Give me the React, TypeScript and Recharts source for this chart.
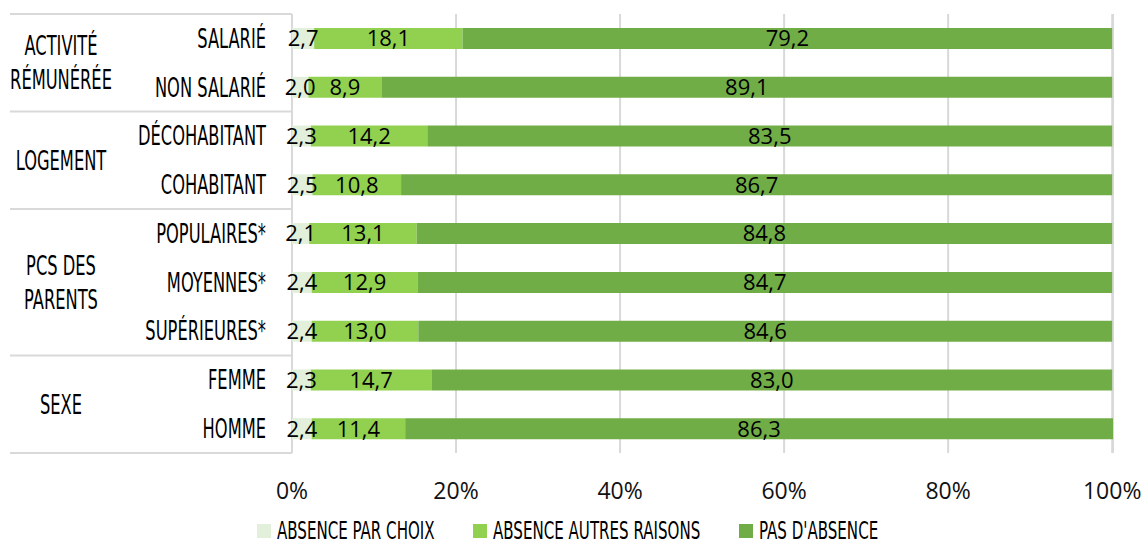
import React from "react";
import { BarChart, Bar, XAxis, YAxis, CartesianGrid, LabelList, Legend } from "recharts";

const categories = ["SALARIÉ", "NON SALARIÉ", "DÉCOHABITANT", "COHABITANT", "POPULAIRES*", "MOYENNES*", "SUPÉRIEURES*", "FEMME", "HOMME"];
const absenceParChoix = [2.7, 2.0, 2.3, 2.5, 2.1, 2.4, 2.4, 2.3, 2.4];
const absenceAutresRaisons = [18.1, 8.9, 14.2, 10.8, 13.1, 12.9, 13.0, 14.7, 11.4];
const pasDAbsence = [79.2, 89.1, 83.5, 86.7, 84.8, 84.7, 84.6, 83.0, 86.3];
const xTicks = [0, 20, 40, 60, 80, 100];
const groups = [
  { label: ["ACTIVITÉ", "RÉMUNÉRÉE"], start: 0, end: 1 },
  { label: ["LOGEMENT"], start: 2, end: 3 },
  { label: ["PCS DES", "PARENTS"], start: 4, end: 6 },
  { label: ["SEXE"], start: 7, end: 8 },
];
const seriesNames = ["ABSENCE PAR CHOIX", "ABSENCE AUTRES RAISONS", "PAS D'ABSENCE"];
const colors = ["#E2EFDA", "#92D050", "#70AD47"];

const data = categories.map((c, i) => ({
  cat: c,
  choix: absenceParChoix[i],
  autres: absenceAutresRaisons[i],
  pas: pasDAbsence[i],
}));

const NARROW = "'DejaVu Sans Condensed', sans-serif";
const LABEL_FONT = "'Open Sans', sans-serif";
const TABLE_LEFT = 10;
const LINE_COLOR = "#d9d9d9";
const SQUEEZE = 0.67;
const CAT_SIZE = 27;

const fmt = (v: any) => String(Number(v).toFixed(1)).replace(".", ",");

const CategoryTick = (props: any) => {
  const { x, y, payload } = props;
  const idx = typeof payload.index === "number" ? payload.index : categories.indexOf(payload.value);
  const half = payload.offset && payload.offset > 0 ? payload.offset : 24.4;
  const band = half * 2;
  const els: any[] = [];
  els.push(
    <text
      key="c"
      x={0}
      y={0}
      transform={`translate(${x - 26},${y}) scale(${SQUEEZE},1)`}
      textAnchor="end"
      dominantBaseline="central"
      fontFamily={NARROW}
      fontSize={CAT_SIZE}
      fill="#000"
    >
      {payload.value}
    </text>
  );
  const g = groups.find((gg) => gg.start === idx);
  if (g) {
    const top = y - half;
    els.push(<line key="t" x1={TABLE_LEFT} x2={x} y1={top} y2={top} stroke={LINE_COLOR} strokeWidth={2} />);
    const center = top + ((g.end - g.start + 1) * band) / 2;
    const lh = 34;
    g.label.forEach((l, k) => {
      const ly = center + (k - (g.label.length - 1) / 2) * lh;
      els.push(
        <text
          key={"g" + k}
          x={0}
          y={0}
          transform={`translate(61,${ly}) scale(${SQUEEZE},1)`}
          textAnchor="middle"
          dominantBaseline="central"
          fontFamily={NARROW}
          fontSize={CAT_SIZE}
          fill="#000"
        >
          {l}
        </text>
      );
    });
  }
  if (idx === categories.length - 1) {
    const bot = y + half;
    els.push(<line key="b" x1={TABLE_LEFT} x2={x} y1={bot} y2={bot} stroke={LINE_COLOR} strokeWidth={2} />);
  }
  return <g>{els}</g>;
};

const XTick = (props: any) => {
  const { x, y, payload } = props;
  return (
    <text x={x} y={y + 37} textAnchor="middle" dominantBaseline="central" fontFamily={LABEL_FONT} fontSize={23} fill="#111">
      {payload.value}%
    </text>
  );
};

const legendLefts = [257, 473, 739];

const LegendContent = () => (
  <div style={{ position: "relative", width: 1146, height: 22 }}>
    {seriesNames.map((n, i) => (
      <div key={n} style={{ position: "absolute", left: legendLefts[i], top: 0, height: 22, display: "flex", alignItems: "center" }}>
        <span style={{ display: "inline-block", width: 14, height: 14, background: colors[i] }} />
        <span
          style={{
            display: "inline-block",
            marginLeft: 6,
            fontFamily: NARROW,
            fontSize: 25,
            lineHeight: "22px",
            color: "#000",
            whiteSpace: "nowrap",
            transform: `scaleX(0.67)`,
            transformOrigin: "left center",
          }}
        >
          {n}
        </span>
      </div>
    ))}
  </div>
);

export default function App() {
  return (
    <div style={{ position: "absolute", left: 0, top: 0, width: 1146, height: 545 }}>
      <BarChart
        width={1146}
        height={545}
        data={data}
        layout="vertical"
        margin={{ top: 14, right: 33, left: 10, bottom: 52 }}
        barSize={21}
      >
        <CartesianGrid horizontal={false} vertical={true} stroke={LINE_COLOR} strokeWidth={2} />
        <XAxis
          type="number"
          domain={[0, 100]}
          ticks={xTicks}
          tick={<XTick />}
          tickLine={false}
          axisLine={false}
          tickSize={0}
          tickMargin={0}
          height={40}
          interval={0}
        />
        <YAxis
          type="category"
          dataKey="cat"
          width={282}
          tick={<CategoryTick />}
          tickLine={false}
          axisLine={false}
          tickSize={0}
          tickMargin={0}
          interval={0}
        />
        <Legend
          layout="horizontal"
          verticalAlign="middle"
          align="center"
          content={<LegendContent />}
          wrapperStyle={{ position: "absolute", top: 520, left: 0, width: 1146, height: 22 }}
        />
        <Bar dataKey="choix" name={seriesNames[0]} stackId="a" fill={colors[0]} isAnimationActive={false}>
          <LabelList dataKey="choix" position="center" formatter={fmt} fill="#000" fontFamily={LABEL_FONT} fontSize={22} />
        </Bar>
        <Bar dataKey="autres" name={seriesNames[1]} stackId="a" fill={colors[1]} isAnimationActive={false}>
          <LabelList dataKey="autres" position="center" formatter={fmt} fill="#000" fontFamily={LABEL_FONT} fontSize={22} />
        </Bar>
        <Bar dataKey="pas" name={seriesNames[2]} stackId="a" fill={colors[2]} isAnimationActive={false}>
          <LabelList dataKey="pas" position="center" formatter={fmt} fill="#000" fontFamily={LABEL_FONT} fontSize={22} />
        </Bar>
      </BarChart>
    </div>
  );
}
